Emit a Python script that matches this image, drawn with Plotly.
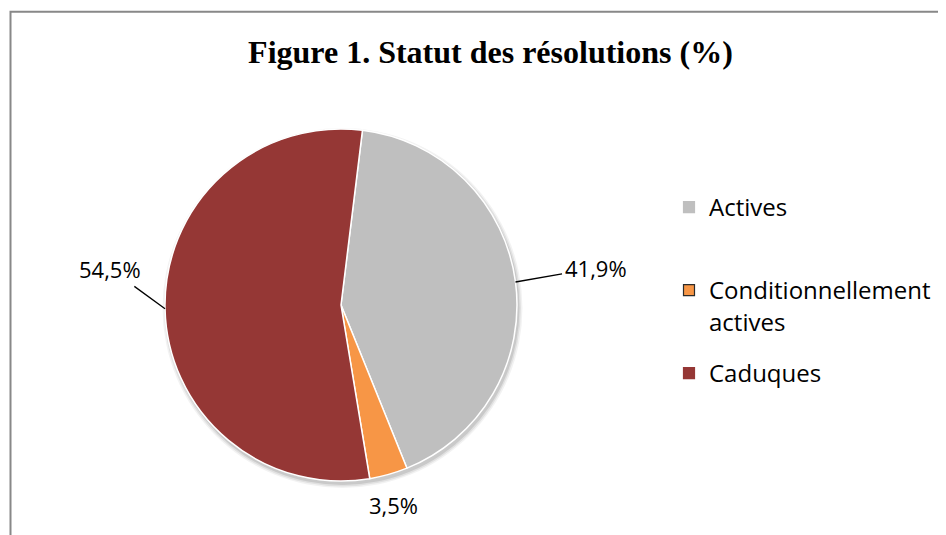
import math
import plotly.graph_objects as go

labels = ["Actives", "Conditionnellement<br>actives", "Caduques"]
values = [41.9, 3.5, 54.5]
colors = ["#BFBFBF", "#F79646", "#953735"]
legend_edge = ["#BFBFBF", "#2B2B2B", "#953735"]
title = "Figure 1. Statut des résolutions (%)"

W, H = 946, 535
ROTATION = 7
# pie domain (paper) chosen so that the disc sits where it is in the reference
DOM_X = [157 / W, 509 / W]
DOM_Y = [62 / H, 414 / H]
# where each percentage label sits relative to its slice's outer edge (px) and whether a leader line is drawn
label_offsets = [(81, -14, True), (5, 48, False), (-55, -40, True)]

fig = go.Figure()
fig.add_trace(
    go.Pie(
        labels=labels,
        values=values,
        sort=False,
        direction="clockwise",
        rotation=ROTATION,
        marker=dict(colors=colors, line=dict(color="#FFFFFF", width=1.5)),
        textinfo="none",
        domain=dict(x=DOM_X, y=DOM_Y),
        showlegend=False,
        hoverinfo="label+value",
    )
)

# geometry of the disc (px, y measured from the bottom)
cx = (DOM_X[0] + DOM_X[1]) / 2 * W
cy = (DOM_Y[0] + DOM_Y[1]) / 2 * H
radius = min((DOM_X[1] - DOM_X[0]) * W, (DOM_Y[1] - DOM_Y[0]) * H) / 2
total = sum(values)

# percentage labels with leader lines, anchored on the outer edge of each slice
label_font = dict(family="Open Sans", size=22, color="#000000")
annotations = []
cum = 0.0
for val, (ox, oy, line) in zip(values, label_offsets):
    mid = math.radians(ROTATION + 360 * (cum + val / 2) / total)
    cum += val
    ex = (cx + radius * math.sin(mid)) / W
    ey = (cy + radius * math.cos(mid)) / H
    txt = f"{val:.1f}%".replace(".", ",")
    if line:
        annotations.append(
            dict(
                x=ex, y=ey, xref="paper", yref="paper",
                text=txt, showarrow=True, arrowhead=0, arrowwidth=1.3,
                arrowcolor="#000000", ax=ox, ay=oy,
                standoff=0, startstandoff=2,
                font=label_font,
            )
        )
    else:
        annotations.append(
            dict(
                x=ex, y=ey, xref="paper", yref="paper",
                text=txt, showarrow=False, xshift=ox, yshift=-oy,
                font=label_font,
            )
        )

# soft drop shadow under the disc
shapes = []
for grow, alpha in [(4, 0.05), (2.5, 0.07), (1, 0.10)]:
    sx, sy = cx + 1.5, cy - 3
    shapes.append(
        dict(
            type="circle", xref="paper", yref="paper",
            x0=(sx - radius - grow) / W, x1=(sx + radius + grow) / W,
            y0=(sy - radius - grow) / H, y1=(sy + radius + grow) / H,
            line=dict(width=0), fillcolor=f"rgba(0,0,0,{alpha})", layer="below",
        )
    )
# chart frame
shapes.append(
    dict(
        type="rect", xref="paper", yref="paper",
        x0=2.5 / W, x1=1.02, y0=-0.05, y1=1 - 3.7 / H,
        line=dict(color="#888888", width=2),
        fillcolor="rgba(0,0,0,0)", layer="below",
    )
)

# legend entries (one legend per category so the spacing can follow the reference)
legend_names = ["legend", "legend2", "legend3"]
legend_tops = [177, 260, 343]
for lab, col, edge, lg in zip(labels, colors, legend_edge, legend_names):
    fig.add_trace(
        go.Scatter(
            x=[None],
            y=[None],
            mode="markers",
            name=lab,
            marker=dict(symbol="square", size=11, color=col, line=dict(color=edge, width=1.2)),
            legend=lg,
            showlegend=True,
            hoverinfo="skip",
        )
    )

legend_style = dict(
    x=661 / W,
    xanchor="left",
    yanchor="top",
    font=dict(family="Open Sans", size=24, color="#000000"),
    valign="top",
    bgcolor="rgba(0,0,0,0)",
)

fig.update_layout(
    width=W,
    height=H,
    margin=dict(l=0, r=0, t=0, b=0),
    paper_bgcolor="#FFFFFF",
    plot_bgcolor="rgba(0,0,0,0)",
    xaxis=dict(visible=False),
    yaxis=dict(visible=False),
    title=dict(
        text="<b>" + title + "</b>",
        font=dict(family="Liberation Serif", size=32, color="#000000"),
        x=0.51,
        xanchor="center",
        y=1 - 44 / H,
        yanchor="middle",
        yref="container",
    ),
    legend=dict(legend_style, y=1 - legend_tops[0] / H),
    legend2=dict(legend_style, y=1 - legend_tops[1] / H),
    legend3=dict(legend_style, y=1 - legend_tops[2] / H),
    annotations=annotations,
    shapes=shapes,
)

fig.write_html("out.html")
